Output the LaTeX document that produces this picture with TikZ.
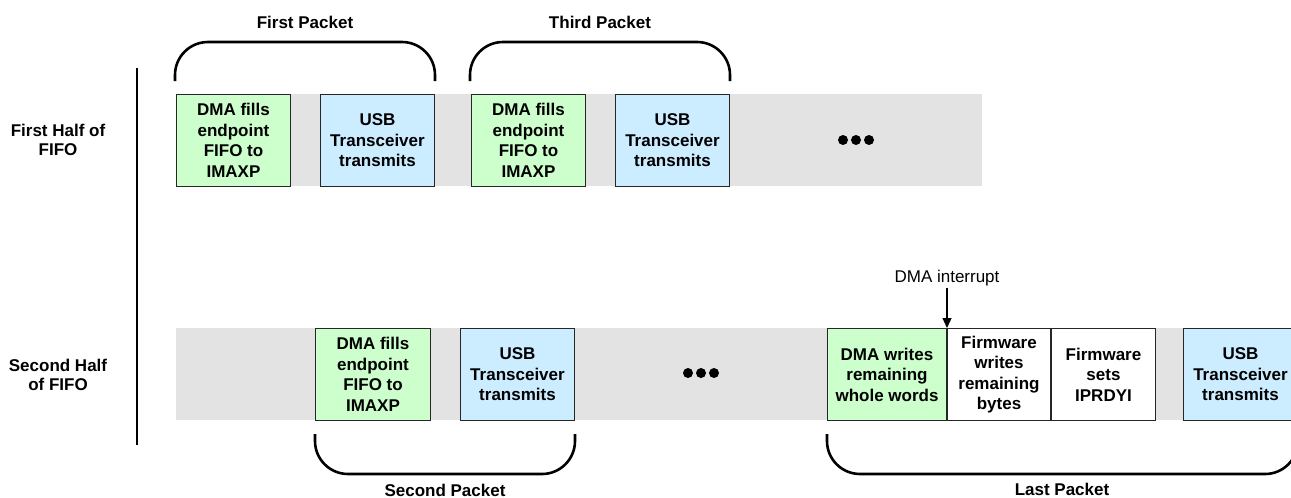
\documentclass[tikz,border=0pt]{standalone}
\usepackage{fontspec}
\setmainfont{Liberation Sans}
\usetikzlibrary{arrows.meta,calc}
\definecolor{bandgray}{RGB}{227,227,227}
\definecolor{boxgreen}{RGB}{204,255,204}
\definecolor{boxblue}{RGB}{204,236,255}
\begin{document}
\begin{tikzpicture}[x=1pt,y=-1pt,
  box/.style={draw=black!85, line width=1pt, minimum height=92pt, minimum width=114pt, inner sep=0pt, anchor=north west, align=center, font=\fontsize{17}{20.5}\selectfont\bfseries},
  greenbox/.style={box, fill=boxgreen},
  bluebox/.style={box, fill=boxblue},
  whitebox/.style={box, fill=white},
  band/.style={fill=bandgray, draw=none},
  brace/.style={line width=2.6pt, rounded corners=33pt},
  title/.style={font=\fontsize{17}{20.5}\selectfont\bfseries, anchor=base, inner sep=0pt},
  rowlabel/.style={font=\fontsize{17}{19.5}\selectfont\bfseries, align=center, inner sep=0pt},
  dotmark/.style={fill=black}]
\useasboundingbox (0,0) rectangle (1291,498);
\clip (0,0) rectangle (1291,498);

% bands
\fill[band] (176,94) rectangle (982,186);
\fill[band] (176,328) rectangle (1297,420);

% top row
\node[greenbox] (t1) at (176,94) {DMA fills\\endpoint\\FIFO to\\IMAXP};
\node[bluebox]  (t2) at (320,94) {USB\\Transceiver\\transmits};
\node[greenbox] (t3) at (471,94) {DMA fills\\endpoint\\FIFO to\\IMAXP};
\node[bluebox]  (t4) at (615,94) {USB\\Transceiver\\transmits};

% bottom row
\node[greenbox, minimum width=115pt] (s1) at (315,328) {DMA fills\\endpoint\\FIFO to\\IMAXP};
\node[bluebox]  (s2) at (460,328) {USB\\Transceiver\\transmits};
\node[greenbox, minimum width=119pt] (l1) at (827,328) {DMA writes\\remaining\\whole words};
\node[whitebox, minimum width=103pt] (l2) at (l1.north east) {Firmware\\writes\\remaining\\bytes};
\node[whitebox, minimum width=104pt] (l3) at (l2.north east) {Firmware\\sets\\IPRDYI};
\node[bluebox]  (l4) at (1183,328) {USB\\Transceiver\\transmits};

% brackets
\draw[brace] ($(t1.north west)+(-1,-13)$) -- ($(t1.north west)+(-1,-52)$) -- ($(t2.north east)+(0,-52)$) -- ($(t2.north east)+(0,-13)$);
\draw[brace] ($(t3.north west)+(-1,-13)$) -- ($(t3.north west)+(-1,-52)$) -- ($(t4.north east)+(0,-52)$) -- ($(t4.north east)+(0,-13)$);
\draw[brace] ($(s1.south west)+(0,13)$) -- ($(s1.south west)+(0,53)$) -- ($(s2.south east)+(0,53)$) -- ($(s2.south east)+(0,13)$);
\draw[brace] ($(l1.south west)+(0,13)$) -- ($(l1.south west)+(0,53)$) -- ($(l4.south east)+(0,53)$) -- ($(l4.south east)+(0,13)$);

% packet titles
\node[title] (p1) at (305,28) {First Packet};
\node[title] (p3) at (600,28) {Third Packet};
\node[title] (p2) at (445,496) {Second Packet};
\node[title] (p4) at (1062,495) {Last Packet};

% row labels
\node[rowlabel] (r1) at (58,140) {First Half of\\FIFO};
\node[rowlabel] (r2) at (58,375) {Second Half\\of FIFO};
\draw[line width=1.2pt] (137,68) -- (137,445);

% ellipses
\foreach \x in {843,856,869} \fill[dotmark] (\x,140) circle (5pt);
\foreach \x in {688,701,714} \fill[dotmark] (\x,373) circle (5pt);

% interrupt
\node[font=\fontsize{17}{20}\selectfont, anchor=base, inner sep=2pt] (irq) at (947,282) {DMA interrupt};
\draw[line width=1.2pt, -{Triangle[width=9pt,length=10pt]}] (irq.south -| l1.north east) -- (l1.north east);
\end{tikzpicture}
\end{document}
